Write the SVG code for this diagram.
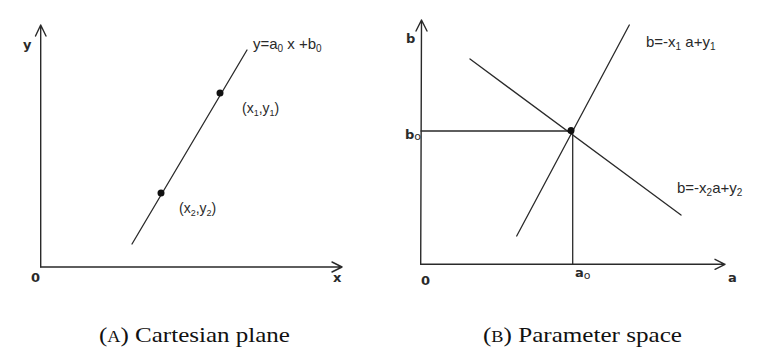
<svg xmlns="http://www.w3.org/2000/svg" width="761" height="354" viewBox="0 0 761 354">
<style>
.ln{stroke:#2a2a2a;stroke-width:1.3;fill:none;stroke-linecap:round}
.ax{stroke:#2a2a2a;stroke-width:1.4;fill:none;stroke-linecap:round;stroke-linejoin:round}
.lbl{font-family:"Liberation Sans",Arial,sans-serif;font-size:15px;fill:#2a2a2a}
.bold{font-family:"DejaVu Sans","Liberation Sans",sans-serif;font-weight:bold;font-size:13px;fill:#2a2a2a}
.sub{font-size:10px}
.cap{font-family:"Liberation Serif","Times New Roman",serif;font-size:22px;fill:#111}
.dot{fill:#111}
</style>
<rect width="761" height="354" fill="#ffffff"/>

<g id="panel-a-axes" class="connectors">
  <path class="ax" d="M40.7,267 L40.7,25 M35.5,36 L40.7,25 L46,36"/>
  <path class="ax" d="M40.7,267 L342,267 M332,262 L342,267 L332,272"/>
</g>
<g id="panel-a-line">
  <line class="ln" x1="132" y1="244" x2="247" y2="50"/>
</g>
<g id="point1"><circle class="dot" cx="220" cy="93" r="3.5"/></g>
<g id="point2"><circle class="dot" cx="161" cy="193" r="3.5"/></g>
<g id="panel-a-labels">
  <text class="bold" x="23" y="49">y</text>
  <text class="bold" x="31" y="282">0</text>
  <text class="bold" x="333" y="282">x</text>
  <text class="lbl" x="253" y="49">y=a<tspan class="sub" dy="3">0</tspan><tspan dy="-3"> x +b</tspan><tspan class="sub" dy="3">0</tspan></text>
  <text class="lbl" x="242" y="113" style="font-size:14px">(x<tspan class="sub" dy="3" style="font-size:9px">1</tspan><tspan dy="-3">,y</tspan><tspan class="sub" dy="3" style="font-size:9px">1</tspan><tspan dy="-3">)</tspan></text>
  <text class="lbl" x="179" y="213" style="font-size:14px">(x<tspan class="sub" dy="3" style="font-size:9px">2</tspan><tspan dy="-3">,y</tspan><tspan class="sub" dy="3" style="font-size:9px">2</tspan><tspan dy="-3">)</tspan></text>
</g>

<g id="panel-b-axes" class="connectors">
  <path class="ax" d="M420.7,264.3 L421.5,20 M416,31 L421.5,20 L427,31"/>
  <path class="ax" d="M420.7,264.3 L725,264.3 M715,259.3 L725,264.3 L715,269.3"/>
</g>
<g id="panel-b-lines">
  <line class="ln" x1="516.7" y1="236" x2="629.3" y2="25"/>
  <line class="ln" x1="470" y1="59" x2="681" y2="215"/>
  <line class="ln" x1="421" y1="131" x2="571" y2="131"/>
  <line class="ln" x1="572.7" y1="131" x2="572.7" y2="264"/>
</g>
<g id="intersection"><circle class="dot" cx="571" cy="130.5" r="3.5"/></g>
<g id="panel-b-labels">
  <text class="bold" x="406" y="43">b</text>
  <text class="bold" x="405" y="139">b<tspan style="font-weight:normal;font-size:11px" dy="1">o</tspan></text>
  <text class="bold" x="421" y="285">0</text>
  <text class="bold" x="575" y="277">a<tspan style="font-weight:normal;font-size:11px" dy="2">o</tspan></text>
  <text class="bold" x="728" y="282">a</text>
  <text class="lbl" x="646" y="47">b=-x<tspan class="sub" dy="3">1</tspan><tspan dy="-3"> a+y</tspan><tspan class="sub" dy="3">1</tspan></text>
  <text class="lbl" x="677" y="193">b=-x<tspan class="sub" dy="3">2</tspan><tspan dy="-3">a+y</tspan><tspan class="sub" dy="3">2</tspan></text>
</g>

<g id="captions">
  <text class="cap" x="99" y="342" textLength="191" lengthAdjust="spacingAndGlyphs">(<tspan style="font-size:16px">A</tspan>) Cartesian plane</text>
  <text class="cap" x="483" y="342" textLength="199" lengthAdjust="spacingAndGlyphs">(<tspan style="font-size:16px">B</tspan>) Parameter space</text>
</g>
</svg>
